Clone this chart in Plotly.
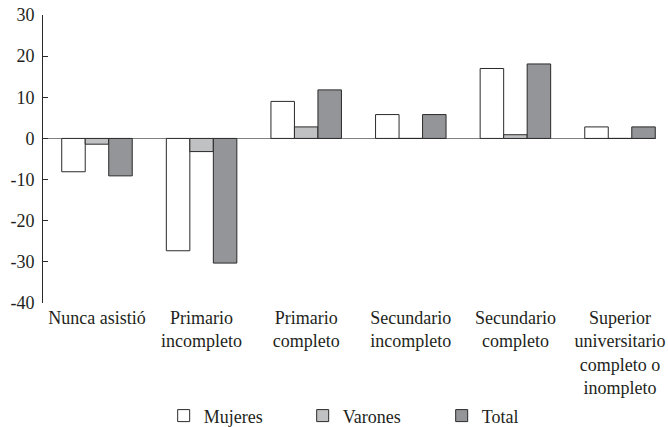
import plotly.graph_objects as go

categories = ["Nunca asistió", "Primario<br>incompleto", "Primario<br>completo",
              "Secundario<br>incompleto", "Secundario<br>completo",
              "Superior<br>universitario<br>completo o<br>inompleto"]
mujeres = [-8.1, -27.3, 9.0, 5.8, 17.0, 2.8]
varones = [-1.4, -3.2, 2.8, 0, 0.9, 0]
total = [-9.1, -30.3, 11.8, 5.8, 18.1, 2.8]
y_ticks = [30, 20, 10, 0, -10, -20, -30, -40]

line = dict(color="#2a2a2a", width=1)
fig = go.Figure()
fig.add_bar(x=categories, y=mujeres, name="Mujeres", marker=dict(color="#ffffff", line=line))
fig.add_bar(x=categories, y=varones, name="Varones", marker=dict(color="#c0c1c3", line=line))
fig.add_bar(x=categories, y=total, name="Total", marker=dict(color="#939598", line=line))

FAMILY = "Liberation Serif, Tinos, Times New Roman, serif"
font = dict(family=FAMILY, size=18, color="#231f20")

fig.update_layout(
    width=668, height=427,
    margin=dict(l=43, r=12, t=15, b=124, autoexpand=False),
    paper_bgcolor="white", plot_bgcolor="white",
    font=font,
    barmode="group", bargap=0.326, bargroupgap=0,
    showlegend=True,
    legend=dict(orientation="h", x=0.537, xanchor="center", y=-0.392, yanchor="middle",
                font=dict(family=FAMILY, size=18, color="#231f20"),
                entrywidth=94, entrywidthmode="pixels",
                itemwidth=30, traceorder="normal"),
    xaxis=dict(range=[-0.516, 5.344], showline=False, ticks="", showgrid=False,
               zeroline=False, tickangle=0, ticklabelstandoff=2, automargin=False,
               tickfont=dict(family=FAMILY, size=18, color="#231f20")),
    yaxis=dict(range=[-40, 30], tickvals=y_ticks, ticktext=[str(v) for v in y_ticks],
               showline=True, linecolor="#2a2a2a", linewidth=1,
               ticks="inside", ticklen=5, tickcolor="#2a2a2a",
               showgrid=False, zeroline=True, zerolinecolor="#808080", zerolinewidth=1,
               ticklabelstandoff=4, automargin=False, ticklabeloverflow="allow",
               tickfont=dict(family=FAMILY, size=18, color="#231f20")),
)
fig.write_html("out.html", config={"displayModeBar": False},
               post_script="document.body.style.margin='0';document.body.style.overflow='hidden';")
